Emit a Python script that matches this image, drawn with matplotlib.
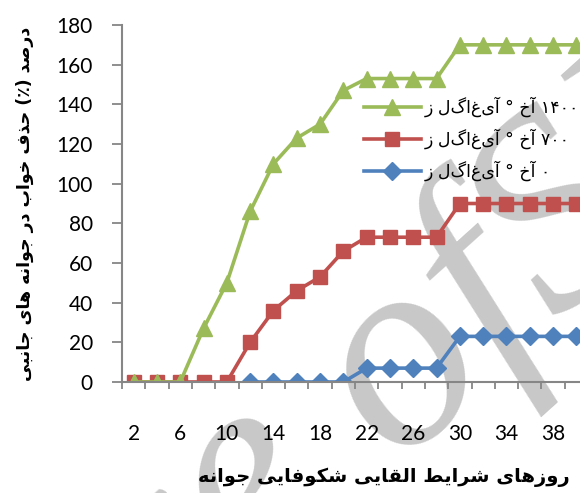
import matplotlib
matplotlib.use("Agg")
import matplotlib.pyplot as plt

# روزهای شرایط القایی شکوفایی جوانه
days = [2, 4, 6, 8, 10, 12, 14, 16, 18, 20, 22, 24, 26, 28, 30, 32, 34, 36, 38, 40]
conc_1400 = [0, 0, 0, 27, 50, 86, 110, 123, 130, 147, 153, 153, 153, 153, 170, 170, 170, 170, 170, 170]
conc_700 = [0, 0, 0, 0, 0, 20, 36, 46, 53, 66, 73, 73, 73, 73, 90, 90, 90, 90, 90, 90]
conc_0 = [None, None, None, None, None, 0, 0, 0, 0, 0, 7, 7, 7, 7, 23, 23, 23, 23, 23, 23]
legend_labels = ["ز لگاغیآ ° خآ ۱۴۰۰", "ز لگاغیآ ° خآ ۷۰۰", "ز لگاغیآ ° خآ ۰"]
xlabel = "روزهای شرایط القایی شکوفایی جوانه"
ylabel = "درصد (٪) حذف خواب در جوانه های جانبی"

# minimal arabic shaping (matplotlib has no bidi / joining support)
FORMS = {
    "ا": "\uFE8D\uFE8E", "آ": "\uFE81\uFE82", "د": "\uFEA9\uFEAA", "ذ": "\uFEAB\uFEAC",
    "ر": "\uFEAD\uFEAE", "ز": "\uFEAF\uFEB0", "و": "\uFEED\uFEEE",
    "ب": "\uFE8F\uFE90\uFE91\uFE92", "ج": "\uFE9D\uFE9E\uFE9F\uFEA0", "ح": "\uFEA1\uFEA2\uFEA3\uFEA4",
    "خ": "\uFEA5\uFEA6\uFEA7\uFEA8", "ش": "\uFEB5\uFEB6\uFEB7\uFEB8", "ص": "\uFEB9\uFEBA\uFEBB\uFEBC",
    "ط": "\uFEC1\uFEC2\uFEC3\uFEC4", "ف": "\uFED1\uFED2\uFED3\uFED4", "ق": "\uFED5\uFED6\uFED7\uFED8",
    "ک": "\uFB8E\uFB8F\uFB90\uFB91", "ل": "\uFEDD\uFEDE\uFEDF\uFEE0", "ن": "\uFEE5\uFEE6\uFEE7\uFEE8",
    "ه": "\uFEE9\uFEEA\uFEEB\uFEEC", "ی": "\uFBFC\uFBFD\uFBFE\uFBFF",
}


def shape(s):
    out = []
    for i, ch in enumerate(s):
        f = FORMS.get(ch)
        if f is None:
            out.append(ch)
            continue
        prev = s[i - 1] if i > 0 else ""
        nxt = s[i + 1] if i + 1 < len(s) else ""
        jp = prev in FORMS and len(FORMS[prev]) == 4
        jn = len(f) == 4 and nxt in FORMS
        if jp and jn:
            out.append(f[3])
        elif jn:
            out.append(f[2])
        elif jp:
            out.append(f[1])
        else:
            out.append(f[0])
    vis = "".join(out)[::-1]
    return vis.translate(str.maketrans("()", ")("))


GREEN, RED, BLUE = "#9BBB59", "#C0504D", "#4F81BD"
AXIS = "#868686"

fig = plt.figure(figsize=(5.8, 4.93), dpi=100)
W, H = 580, 493
ax = fig.add_axes([122 / W, (H - 382) / H, 466 / W, 357 / H])
ax.patch.set_alpha(0)

# watermark (page stamp of the source), behind everything
wm = dict(fontsize=200, family="Liberation Serif", style="italic", color="#C8C8C8",
          rotation=42, rotation_mode="anchor", va="baseline", zorder=-10)
fig.text(395 / W, 1 - 462 / H, "ofSID", ha="left", **wm)
fig.text(395 / W, 1 - 462 / H, "Archive ", ha="right", **wm)

xs = list(range(len(days)))
ax.plot(xs, conc_0, color=BLUE, lw=2.6, marker="D", ms=9, label=legend_labels[2])
ax.plot(xs, conc_700, color=RED, lw=2.6, marker="s", ms=10, label=legend_labels[1])
ax.plot(xs, conc_1400, color=GREEN, lw=2.6, marker="^", ms=11, label=legend_labels[0])

ax.set_xlim(-0.5, len(days) - 0.5)
ax.set_ylim(0, 180)
ax.set_yticks(range(0, 181, 20))
ax.set_xticks(xs[::2])
ax.set_xticklabels([str(d) for d in days[::2]])
ax.set_xticks([i - 0.5 for i in range(len(days) + 1)], minor=True)
ax.tick_params(axis="x", which="major", length=0, pad=30)
ax.tick_params(axis="x", which="minor", length=5, color=AXIS, width=1.3)
ax.tick_params(axis="y", length=7, color=AXIS, width=1.3, pad=14)
for lab in ax.get_xticklabels() + ax.get_yticklabels():
    lab.set_fontfamily("Lato")
    lab.set_fontsize(15)
for side in ["top", "right"]:
    ax.spines[side].set_visible(False)
for side in ["left", "bottom"]:
    ax.spines[side].set_color(AXIS)
    ax.spines[side].set_linewidth(1.5)

ax.set_xlabel(shape(xlabel), fontsize=14, fontweight="bold")
ax.xaxis.set_label_coords((384 - 122) / 466, -(468 - 382) / 357)
ax.set_ylabel(shape(ylabel), fontsize=12.5, fontweight="bold", labelpad=16)

h, l = ax.get_legend_handles_labels()
ax.legend(h[::-1], l[::-1], loc="upper left", bbox_to_anchor=(355 / W, 1 - 88 / H),
          bbox_transform=fig.transFigure, frameon=False, fontsize=12.5,
          handlelength=3.3, labelspacing=0.65, handletextpad=0.2, borderpad=0)

fig.savefig("out.png", dpi=100)
